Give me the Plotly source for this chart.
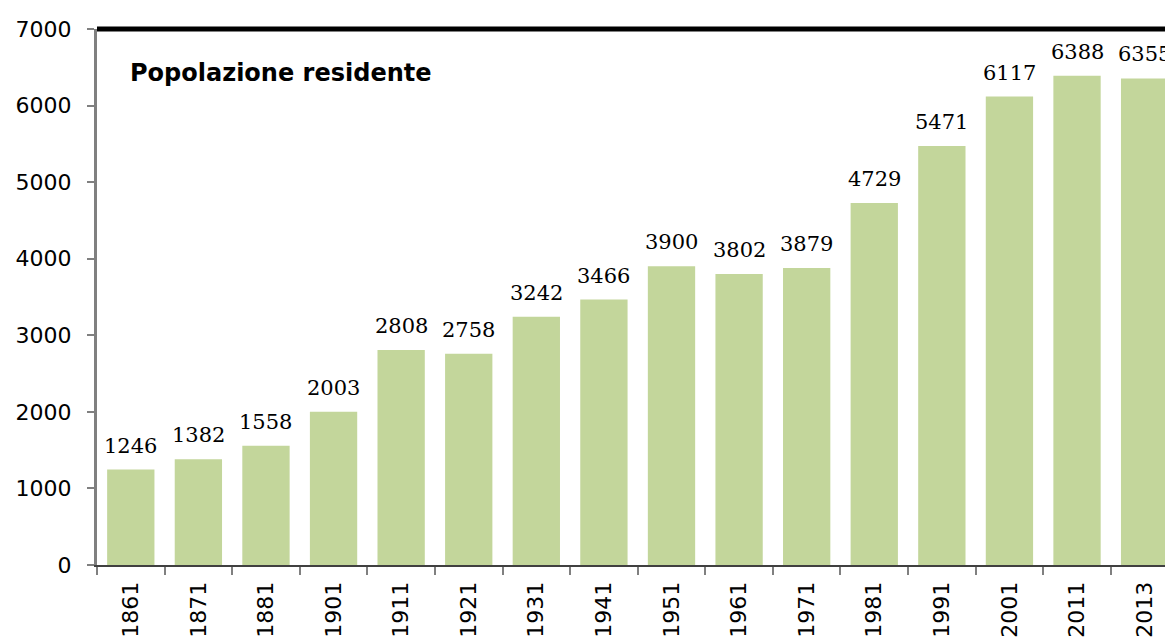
import plotly.graph_objects as go

years = ["1861", "1871", "1881", "1901", "1911", "1921", "1931", "1941",
         "1951", "1961", "1971", "1981", "1991", "2001", "2011", "2013"]
population = [1246, 1382, 1558, 2003, 2808, 2758, 3242, 3466,
              3900, 3802, 3879, 4729, 5471, 6117, 6388, 6355]
y_ticks = [0, 1000, 2000, 3000, 4000, 5000, 6000, 7000]
title_text = "Popolazione residente"

fig = go.Figure()
fig.add_trace(go.Bar(
    x=years, y=population, width=0.7,
    marker=dict(color="#c3d69b", line=dict(width=0)),
    hoverinfo="skip",
))

for i, v in enumerate(population):
    fig.add_annotation(x=i, y=v, text=str(v), showarrow=False,
                       yanchor="bottom", yshift=10,
                       font=dict(family="DejaVu Serif", size=21, color="#000000"))

fig.add_annotation(xref="paper", yref="paper", x=0.029, y=0.918, xanchor="left",
                   yanchor="middle", text="<b>" + title_text + "</b>", showarrow=False,
                   font=dict(family="DejaVu Sans", size=24, color="#000000"))

fig.add_shape(type="line", xref="paper", yref="paper", x0=0, x1=1, y0=1, y1=1,
              line=dict(color="#000000", width=5))

fig.update_layout(
    width=1165, height=630,
    margin=dict(l=89, r=0, t=21, b=65),
    paper_bgcolor="white", plot_bgcolor="white",
    showlegend=False,
    xaxis=dict(
        type="category", range=[-0.5, 15.42],
        tickangle=-90, tickson="boundaries", ticks="outside", ticklen=8,
        tickcolor="#808080", tickwidth=2,
        showline=True, linecolor="#404040", linewidth=2, layer="below traces",
        showgrid=False, zeroline=False, ticklabelstandoff=6,
        tickfont=dict(family="DejaVu Sans", size=22, color="#000000"),
    ),
    yaxis=dict(
        range=[0, 7000], tickvals=y_ticks, ticks="outside", ticklen=7,
        tickcolor="#808080", tickwidth=1.5, ticklabelstandoff=11,
        showline=True, linecolor="#808080", linewidth=3,
        showgrid=False, zeroline=False,
        tickfont=dict(family="DejaVu Sans", size=22, color="#000000"),
    ),
)

fig.write_html("out.html")
